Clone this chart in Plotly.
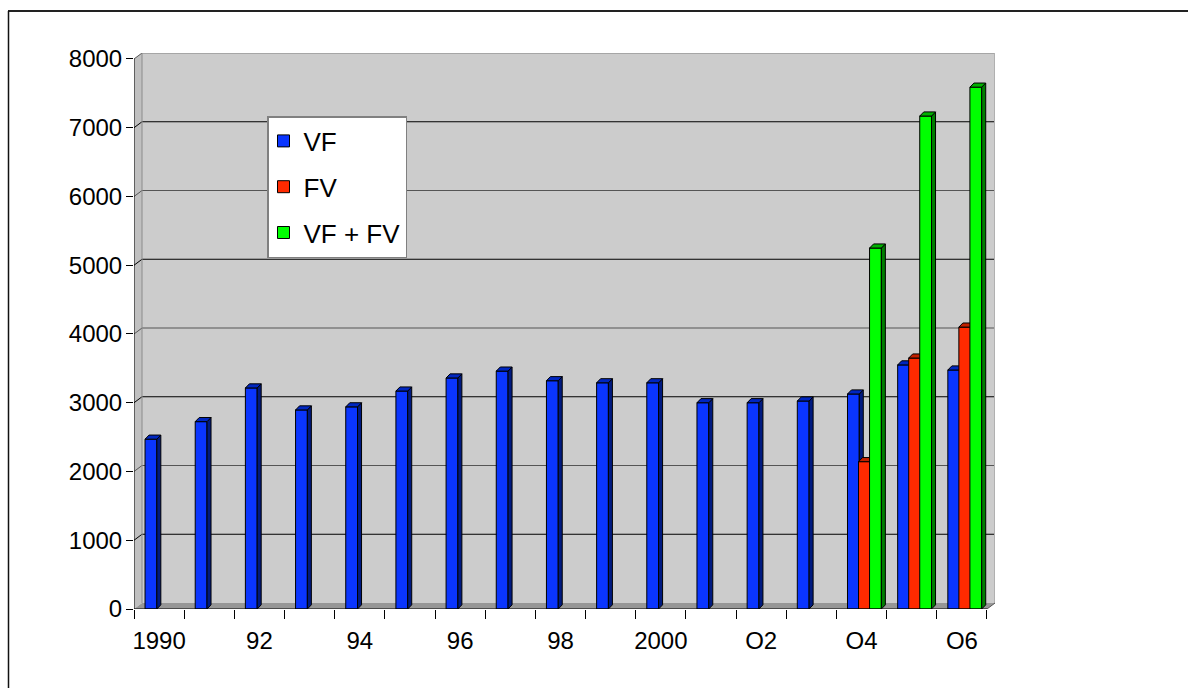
import plotly.graph_objects as go

categories = ["1990", "1991", "1992", "1993", "1994", "1995", "1996", "1997", "1998",
              "1999", "2000", "2001", "2002", "2003", "2004", "2005", "2006"]
tick_labels = ["1990", "", "92", "", "94", "", "96", "", "98", "", "2000", "", "O2", "", "O4", "", "O6"]
vf = [2470, 2725, 3215, 2895, 2940, 3170, 3360, 3460, 3320, 3290, 3290, 3000, 3000, 3025, 3127, 3550, 3476]
fv = [None] * 14 + [2143, 3650, 4100]
vf_fv = [None] * 14 + [5250, 7170, 7590]
y_ticks = [0, 1000, 2000, 3000, 4000, 5000, 6000, 7000, 8000]

DX, DY = 0.16, 87.0          # pseudo-3D depth of the box, in data units
BDX, BDY = 0.08, 60.0        # pseudo-3D depth of each bar
X0, X1 = -0.5, 16.5
W = 0.235
FONT = "Liberation Sans"
M_L, M_R, M_T, M_B = 134, 193, 53, 79
PW, PH = 1188 - M_L - M_R, 688 - M_T - M_B

series = [
    ("VF", vf, -0.28, "#0a35ff", "#001a80", "#0026c0", "x", "y"),
    ("FV", fv, -0.06, "#ff2a00", "#801500", "#c02000", "x2", "y2"),
    ("VF + FV", vf_fv, 0.16, "#00ff00", "#007f00", "#00b000", "x3", "y3"),
]

fig = go.Figure()
for name, values, off, front, side, top, xa, ya in series:
    idx = [i for i, v in enumerate(values) if v is not None]
    fig.add_trace(go.Bar(
        name=name, x=idx, y=[values[i] for i in idx], offset=off, width=W,
        marker=dict(color=front, line=dict(color="black", width=1)),
        legendgroup=name, xaxis=xa, yaxis=ya, hoverinfo="skip",
    ))
    sx, sy, tx, ty = [], [], [], []
    for i in idx:
        l, r, v = i + off, i + off + W, values[i]
        sx += [r, r + BDX, r + BDX, r, r, None]
        sy += [0, BDY, v + BDY, v, 0, None]
        tx += [l, l + BDX, r + BDX, r, l, None]
        ty += [v, v + BDY, v + BDY, v, v, None]
    for px, py, col in ((sx, sy, side), (tx, ty, top)):
        fig.add_trace(go.Scatter(
            x=px, y=py, mode="lines", fill="toself", fillcolor=col,
            line=dict(color="black", width=1), showlegend=False,
            xaxis=xa, yaxis=ya, hoverinfo="skip",
        ))

# walls, floor and gridlines of the 3D box
def poly(xs, ys, fill, line="rgba(0,0,0,0)", width=0):
    path = "M" + "L".join(f"{a},{b}" for a, b in zip(xs, ys)) + "Z"
    return dict(type="path", path=path, xref="x", yref="y", layer="below",
                fillcolor=fill, line=dict(color=line, width=width))

ymax = y_ticks[-1]
shapes = [
    poly([X0 + DX, X1 + DX, X1 + DX, X0 + DX], [DY, DY, ymax + DY, ymax + DY], "#cccccc"),
    poly([X0, X0 + DX, X0 + DX, X0], [0, DY, ymax + DY, ymax], "#c0c0c0"),
    poly([X0, X0 + DX, X1 + DX, X1], [0, DY, DY, 0], "#969696"),
]
for t in y_ticks[1:]:
    col = "#000000" if (t // 1000) % 2 == 1 else "#555555"
    shapes.append(dict(type="line", xref="x", yref="y", layer="below",
                       x0=X0, x1=X0 + DX, y0=t, y1=t + DY, line=dict(color=col, width=1)))
    if t == ymax:
        col = "#808080"
    shapes.append(dict(type="line", xref="x", yref="y", layer="below",
                       x0=X0 + DX, x1=X1 + DX, y0=t + DY, y1=t + DY,
                       line=dict(color=col, width=1.2)))
shapes += [
    dict(type="line", xref="x", yref="y", layer="below", x0=X1 + DX, x1=X1 + DX, y0=DY, y1=ymax + DY,
         line=dict(color="#b0b0b0", width=2)),
    dict(type="line", xref="x", yref="y", layer="below", x0=X0 + DX, x1=X0 + DX, y0=DY, y1=ymax + DY,
         line=dict(color="#8c8c8c", width=1)),
    # front axis lines
    dict(type="line", xref="x", yref="y", x0=X0, x1=X0, y0=0, y1=ymax, line=dict(color="black", width=1)),
    dict(type="line", xref="x", yref="y", x0=X0, x1=X1, y0=0, y1=0, line=dict(color="black", width=1)),
    dict(type="line", xref="x", yref="y", x0=X1, x1=X1 + DX, y0=0, y1=DY, line=dict(color="#555555", width=1)),
    # outer frame: only the top and left edges are on the page
    dict(type="line", xref="paper", yref="paper", x0=(8 - M_L) / PW, x1=(1188 - M_L) / PW,
         y0=(M_T + PH - 11) / PH, y1=(M_T + PH - 11) / PH, line=dict(color="#222222", width=2)),
    dict(type="line", xref="paper", yref="paper", x0=(8.5 - M_L) / PW, x1=(8.5 - M_L) / PW,
         y0=(M_T + PH - 11) / PH, y1=(M_T + PH - 688) / PH, line=dict(color="#111111", width=1.5)),
]

xr = [X0, X1 + DX]
yr = [0, ymax + DY]
overlay_x = dict(range=xr, visible=False, fixedrange=True)
overlay_y = dict(range=yr, visible=False, fixedrange=True)

fig.update_layout(
    width=1188, height=688,
    margin=dict(l=M_L, r=M_R, t=M_T, b=M_B),
    paper_bgcolor="white", plot_bgcolor="rgba(0,0,0,0)",
    font=dict(family=FONT, size=24, color="black"),
    barmode="overlay",
    shapes=shapes,
    showlegend=True,
    legend=dict(x=(267 - M_L) / PW, y=(M_T + PH - 116) / PH, xanchor="left", yanchor="top", bgcolor="white",
                bordercolor="#808080", borderwidth=1.5, tracegroupgap=9, indentation=-5,
                font=dict(family=FONT, size=26), itemclick=False, itemdoubleclick=False),
    xaxis=dict(range=xr, tickmode="array", tickvals=list(range(len(categories))), ticktext=tick_labels,
               ticks="", ticklabelstandoff=15, showgrid=False, zeroline=False, showline=False,
               minor=dict(tickmode="array", tickvals=[i - 0.5 for i in range(len(categories) + 1)],
                          ticks="outside", ticklen=9, tickcolor="black", tickwidth=1, showgrid=False),
               fixedrange=True, tickangle=0),
    yaxis=dict(range=yr, tickmode="array", tickvals=y_ticks, ticks="outside", ticklen=7,
               tickcolor="black", tickwidth=1, showgrid=False, zeroline=False, showline=False,
               ticklabelstandoff=-1, fixedrange=True),
    xaxis2=dict(overlaying="x", **overlay_x), yaxis2=dict(overlaying="y", **overlay_y),
    xaxis3=dict(overlaying="x", **overlay_x), yaxis3=dict(overlaying="y", **overlay_y),
)

fig.write_html("out.html", config={"displayModeBar": False},
               post_script="document.body.style.margin='0';document.documentElement.style.overflow='hidden';")
